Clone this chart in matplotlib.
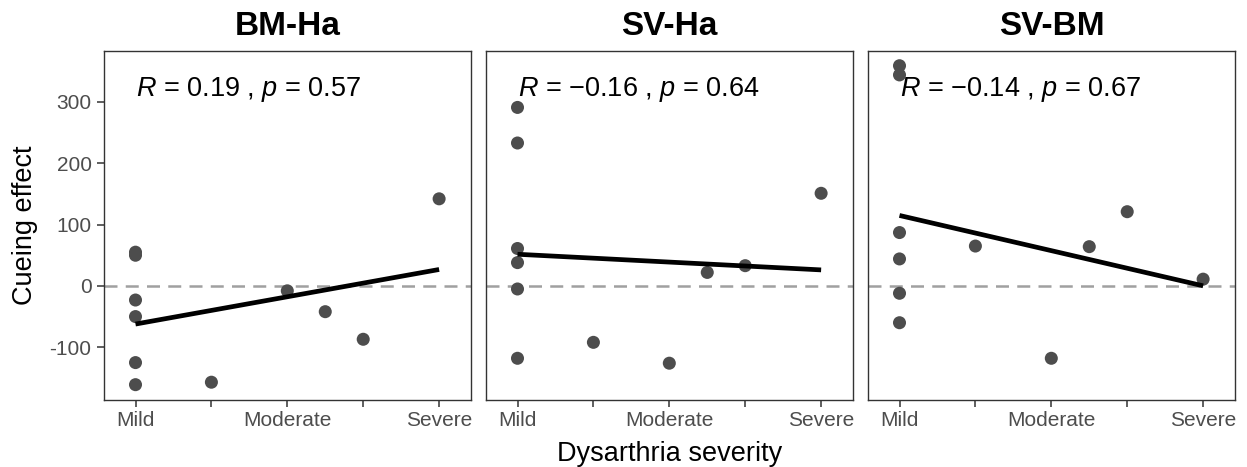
import numpy as np
import matplotlib
matplotlib.use("Agg")
import matplotlib.pyplot as plt

plt.rcParams['font.family'] = ['Liberation Sans', 'DejaVu Sans']
plt.rcParams['mathtext.fontset'] = 'custom'
plt.rcParams['mathtext.rm'] = 'Liberation Sans'
plt.rcParams['mathtext.it'] = 'Liberation Sans:italic'

# ---- data ----
panel_titles = ["BM-Ha", "SV-Ha", "SV-BM"]
severity = [1, 1, 1, 1, 1, 1, 2, 3, 3.5, 4, 5]
bm_ha = [55, 50, -23, -50, -125, -161, -157, -8, -42, -87, 142]
sv_ha = [291, 233, 61, 38, -5, -118, -92, -126, 22, 33, 151]
sv_bm = [359, 344, 87, 44, -12, -60, 65, -118, 64, 121, 11]
cor_labels = [("0.19", "0.57"), ("\u22120.16", "0.64"), ("\u22120.14", "0.67")]
x_ticks = [1, 2, 3, 4, 5]
x_ticklabels = ["Mild", "", "Moderate", "", "Severe"]
y_ticks = [-100, 0, 100, 200, 300]
series = [bm_ha, sv_ha, sv_bm]

W, H = 1247, 467
fig = plt.figure(figsize=(W / 100, H / 100), dpi=100)

lefts = [104, 486, 868]
ax_w = 367
top_px, bot_px = 51, 400

tick_col = '#4D4D4D'
frame_col = '#333333'

for i, (title, ys, (r, p)) in enumerate(zip(panel_titles, series, cor_labels)):
    ax = fig.add_axes([lefts[i] / W, 1 - bot_px / H, ax_w / W, (bot_px - top_px) / H])
    ax.set_xlim(0.585, 5.42)
    ax.set_ylim(-186, 383)
    ax.axhline(0, color='#A0A0A0', lw=1.8, ls=(0, (5.2, 3.3)), zorder=1)
    ax.scatter(severity, ys, s=88, color='#4D4D4D', edgecolors='none', zorder=2)
    xs = np.array(severity, dtype=float)
    slope, icpt = np.polyfit(xs, np.array(ys, dtype=float), 1)
    xl = np.array([xs.min(), xs.max()])
    ax.plot(xl, icpt + slope * xl, color='black', lw=3.4, solid_capstyle='butt', zorder=3)
    ax.text(1.0, 309, r"$\mathit{R}$ = " + r + r" , $\mathit{p}$ = " + p,
            fontsize=19.5, va='baseline', ha='left', zorder=4)
    ax.annotate(title, xy=(0.5, 1), xycoords='axes fraction', xytext=(0, 11.5),
                textcoords='offset points', ha='center', va='baseline',
                fontsize=24, fontweight='bold')
    ax.set_xticks(x_ticks)
    ax.set_xticklabels(x_ticklabels)
    ax.tick_params(axis='x', length=5, width=1.1, color=frame_col, labelcolor=tick_col,
                   labelsize=15, pad=3)
    if i == 0:
        ax.set_yticks(y_ticks)
        ax.set_yticklabels([str(v) for v in y_ticks])
        ax.tick_params(axis='y', length=5, width=1.1, color=frame_col, labelcolor=tick_col,
                       labelsize=15, pad=4)
    else:
        ax.set_yticks([])
    for sp in ax.spines.values():
        sp.set_color(frame_col)
        sp.set_linewidth(1.0)

fig.text((486 + 486 + ax_w) / 2 / W, 1 - 461 / H, "Dysarthria severity",
         ha='center', va='baseline', fontsize=19.5)
fig.text(25 / W, 1 - 225.5 / H, "Cueing effect", rotation=90,
         ha='center', va='center', fontsize=19.5)

fig.savefig("out.png", dpi=100)
